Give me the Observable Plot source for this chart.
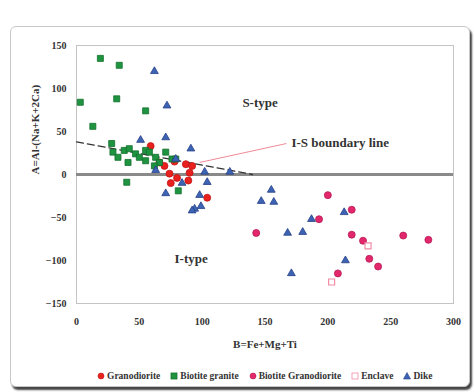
<!DOCTYPE html>
<html><head><meta charset="utf-8">
<script src="https://cdn.jsdelivr.net/npm/d3@7"></script>
<script src="https://cdn.jsdelivr.net/npm/@observablehq/plot@0.6"></script>
<style>
body{margin:0;background:#fff;font-family:"Liberation Serif","Times New Roman",serif;}
#wrap{position:relative;width:474px;height:392px;overflow:hidden}
#frame{position:absolute;left:10px;top:26px;width:458px;height:359px;border:1px solid #c8c8c8;border-radius:6px;box-shadow:2px 3px 2px #444;background:#fff}
#chart{position:absolute;left:0;top:0}
#legend{position:absolute;left:97px;top:371px;display:flex;gap:10px;font-size:9.5px;font-weight:bold;color:#333;white-space:nowrap;align-items:center}
#legend span.item{display:flex;align-items:center;gap:2px}
</style></head><body>
<div id="wrap"><div id="frame"></div><div id="chart"></div><div id="legend"></div></div>
<script>
// ---- data ----
const seriesNames = ["Granodiorite", "Biotite granite", "Biotite Granodiorite", "Enclave", "Dike"];
const seriesColors = ["#e8211f", "#1f9440", "#e3276c", "#f6b6c6", "#3d63b5"];
const seriesStrokes = ["#c01515", "#13702d", "#b51a55", "#f08ca6", "#263f85"];
const seriesSymbols = ["circle", "square", "circle", "square", "triangle"];

const granodioriteX = [59, 66, 70, 74, 75, 80, 87, 90, 89, 92, 104, 78];
const granodioriteY = [33, 14, 10, 1, -10, -4, 12, 2, -7, 10, -27, 15];

const biotiteGraniteX = [19, 34, 3, 32, 55, 13, 28, 29, 33, 38, 42, 41, 47, 50, 55, 55, 58, 63, 66, 71, 76, 79, 40, 81, 62];
const biotiteGraniteY = [135, 127, 84, 88, 74, 56, 36, 26, 20, 28, 30, 14, 24, 20, 28, 16, 26, 20, 14, 26, 18, 18, -9, -19, 10];

const biotiteGranodioriteX = [143, 193, 200, 219, 219, 228, 233, 240, 208, 260, 280];
const biotiteGranodioriteY = [-68, -52, -24, -41, -70, -77, -98, -107, -115, -71, -76];

const enclaveX = [203, 232];
const enclaveY = [-125, -83];

const dikeX = [62, 72, 51, 71, 91, 79, 63, 71, 84, 102, 122, 104, 98, 94, 155, 147, 157, 187, 168, 180, 171, 213, 214, 99, 92];
const dikeY = [120, 80, 40, 43, 30, 18, 5, -22, -10, 3, 3, -9, -24, -40, -18, -31, -32, -52, -68, -67, -115, -44, -100, -37, -42];

const xTicks = [0, 50, 100, 150, 200, 250, 300];
const yTicks = [-150, -100, -50, 0, 50, 100, 150];

const boundaryX = [0, 140];
const boundaryY = [38, 0];

const leaderX = [98, 167];
const leaderY = [14, 36];

const labelTexts = ["S-type", "I-S boundary line", "I-type"];
const labelX = [132, 171, 78];
const labelY = [83, 37, -98];

const xTitle = "B=Fe+Mg+Ti";
const yTitle = "A=Al-(Na+K+2Ca)";

// ---- build ----
const allX = [granodioriteX, biotiteGraniteX, biotiteGranodioriteX, enclaveX, dikeX];
const allY = [granodioriteY, biotiteGraniteY, biotiteGranodioriteY, enclaveY, dikeY];
const points = [];
allX.forEach((xs, s) => xs.forEach((x, i) => points.push({series: seriesNames[s], x, y: allY[s][i], s})));

const boundary = boundaryX.map((x, i) => ({x, y: boundaryY[i]}));
const leader = [{x1: leaderX[0], y1: leaderY[0], x2: leaderX[1], y2: leaderY[1]}];
const labels = labelTexts.map((t, i) => ({t, x: labelX[i], y: labelY[i]}));

const dotMarks = seriesNames.map((name, s) =>
  Plot.dot(points.filter(d => d.s === s), {
    x: "x", y: "y",
    symbol: () => seriesSymbols[s],
    fill: s === 3 ? "#fff" : seriesColors[s],
    stroke: seriesStrokes[s],
    strokeWidth: s === 3 ? 1.2 : 0.8,
    r: seriesSymbols[s] === "triangle" ? 2.9 : (seriesSymbols[s] === "square" ? 3.4 : 3.5)
  })
);

const chart = Plot.plot({
  width: 474, height: 360,
  marginLeft: 76, marginRight: 21, marginTop: 45, marginBottom: 57,
  style: {fontFamily: "Liberation Serif, serif", fontWeight: "bold", fontSize: "10px", color: "#333", background: "transparent"},
  x: {domain: [0, 300], ticks: xTicks, tickSize: 0, tickPadding: 14, label: null},
  y: {domain: [-150, 150], ticks: yTicks, tickSize: 0, tickPadding: 10, label: null},
  marks: [
    Plot.frame({stroke: "#c4c4c4"}),
    Plot.ruleY([0], {stroke: "#8a8a8a", strokeWidth: 3}),
    Plot.line(boundary, {x: "x", y: "y", stroke: "#333", strokeDasharray: "7,4", strokeWidth: 1.3}),
    Plot.link(leader, {x1: "x1", y1: "y1", x2: "x2", y2: "y2", stroke: "#f08a95", strokeWidth: 1}),
    ...dotMarks,
    Plot.text(labels, {x: "x", y: "y", text: "t", textAnchor: "start", fontSize: 13, fontWeight: "bold", fill: "#333"}),
    Plot.text([xTitle], {frameAnchor: "bottom", dy: 44, fontSize: 11, fontWeight: "bold", fill: "#333"}),
    Plot.text([yTitle], {frameAnchor: "left", dx: -41, rotate: -90, fontSize: 11, fontWeight: "bold", fill: "#333"})
  ]
});
document.getElementById("chart").appendChild(chart);

// legend
const leg = document.getElementById("legend");
seriesNames.forEach((name, s) => {
  const item = document.createElement("span");
  item.className = "item";
  const sym = seriesSymbols[s];
  let shape;
  if (sym === "circle") shape = `<circle cx="4" cy="4" r="3" fill="${seriesColors[s]}" stroke="${seriesStrokes[s]}" stroke-width="0.6"/>`;
  else if (sym === "square") shape = `<rect x="1" y="1" width="6" height="6" fill="${s === 3 ? '#fff' : seriesColors[s]}" stroke="${seriesStrokes[s]}" stroke-width="0.8"/>`;
  else shape = `<path d="M4,0.5L7.5,7H0.5Z" fill="${seriesColors[s]}" stroke="${seriesStrokes[s]}" stroke-width="0.6"/>`;
  item.innerHTML = `<svg width="8" height="8">${shape}</svg><span>${name}</span>`;
  leg.appendChild(item);
});
</script>
</body></html>
